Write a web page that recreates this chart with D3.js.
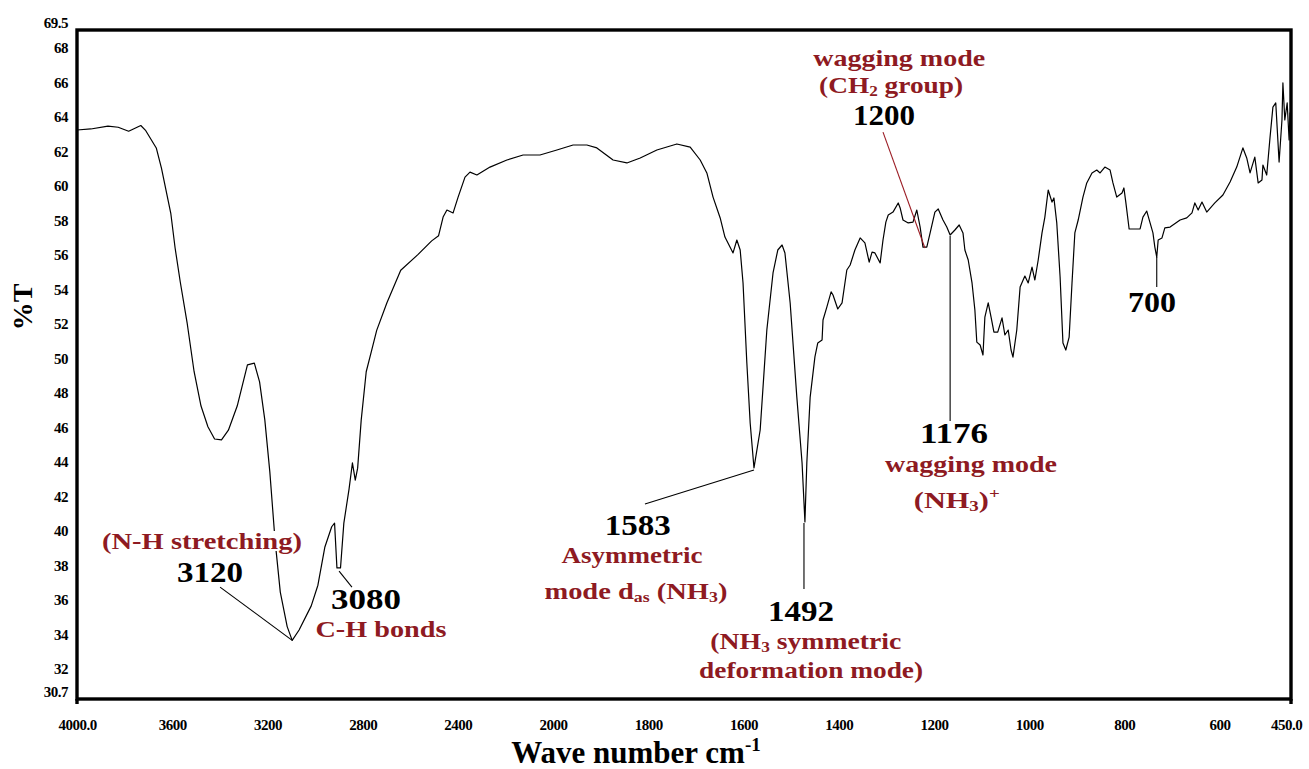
<!DOCTYPE html>
<html>
<head>
<meta charset="utf-8">
<script src="https://cdn.jsdelivr.net/npm/d3@7"></script>
<style>
  body { margin: 0; background: #fff; }
  svg { display: block; }
</style>
</head>
<body>
<svg id="chart" width="1309" height="769"></svg>
<script>
// ---------- DATA ----------
const wavenumbers = [
  4000,3942,3870,3827,3783,3732,3711,3667,3645,3624,3606,3588,3566,3537,3508,3479,3450,3422,3393,3364,
  3327,3284,3255,3233,3211,3190,3168,3146,3117,3096,3067,3016,2988,2959,2930,2918,2908,2893,2879,2857,
  2843,2831,2821,2806,2785,2763,2741,2698,2640,2568,2510,2481,2462,2446,2420,2399,2370,2349,2320,2265,
  2194,2126,2055,1992,1958,1929,1908,1874,1845,1817,1782,1740,1712,1691,1677,1664,1649,1639,1622,1614,
  1607,1601,1593,1586,1578,1565,1551,1538,1528,1519,1513,1502,1488,1477,1471,1467,1460,1450,1444,1435,
  1433,1425,1416,1412,1402,1393,1383,1376,1366,1355,1345,1336,1330,1324,1313,1307,1301,1296,1286,1275,
  1271,1265,1254,1244,1236,1229,1223,1215,1208,1198,1191,1181,1173,1166,1156,1147,1139,1135,1128,1120,
  1114,1110,1103,1097,1093,1086,1080,1074,1066,1057,1051,1044,1038,1034,1026,1019,1009,1002,994,988,
  981,973,967,960,952,948,942,935,929,923,916,910,904,897,887,879,868,858,851,841,
  830,824,816,805,801,797,790,767,761,753,746,740,736,732,729,721,715,704,683,669,
  658,652,645,637,627,610,593,578,564,551,543,536,526,519,511,509,501,494,488,482,
  475,469,467,463,458,454,452,450
];
const transmittance = [
  63.70,63.76,63.92,63.86,63.63,63.96,63.66,62.66,61.47,60.07,58.87,56.87,54.87,52.48,49.68,47.69,46.49,45.78,45.73,46.29,
  47.69,50.08,50.18,49.09,46.89,43.89,39.90,36.90,34.90,34.10,34.70,36.10,37.30,39.50,40.69,40.90,38.30,38.30,40.90,42.89,
  44.39,43.39,44.09,46.89,49.68,50.88,52.08,53.68,55.57,56.47,57.27,57.57,58.65,59.06,58.89,59.81,60.97,61.26,61.09,61.55,
  61.96,62.25,62.25,62.54,62.83,62.83,62.66,61.96,61.79,62.08,62.54,62.89,62.71,61.96,61.21,59.81,58.60,57.49,56.57,57.32,
  56.74,54.83,50.19,46.71,44.10,46.30,52.10,55.41,56.74,57.03,56.57,53.67,48.21,44.39,40.97,44.39,48.21,50.54,51.35,51.52,
  52.68,53.43,54.31,54.13,53.32,53.67,55.58,55.87,56.74,57.44,57.15,56.04,56.62,56.57,55.99,57.32,58.36,58.77,58.94,59.47,
  59.18,58.48,58.31,58.36,59.06,58.07,56.91,56.91,57.73,58.94,59.12,58.48,58.07,57.61,57.90,58.19,57.73,56.74,56.16,54.83,
  53.26,51.40,51.23,50.65,52.85,53.67,52.85,51.98,51.98,52.80,51.81,52.10,50.94,50.53,52.10,54.59,55.23,54.83,55.75,55.00,
  56.16,57.73,58.65,60.22,59.52,59.76,58.31,55.17,51.35,50.94,51.69,54.83,57.73,58.48,59.81,60.63,61.21,61.38,61.21,61.55,
  61.38,60.63,59.81,60.05,60.34,59.52,57.96,57.96,58.65,59.00,58.31,57.73,56.91,56.33,57.32,57.44,58.02,58.07,58.48,58.60,
  58.89,59.47,59.06,59.52,58.94,59.47,59.93,60.68,61.55,62.66,62.08,61.21,62.13,60.63,60.80,61.67,61.09,63.29,65.03,65.27,
  61.84,64.28,66.43,64.28,65.27,63.12,64.69,63.12
];

const xTickValues = [4000,3600,3200,2800,2400,2000,1800,1600,1400,1200,1000,800,600,450];
const xTickLabels = ["4000.0","3600","3200","2800","2400","2000","1800","1600","1400","1200","1000","800","600","450.0"];
const yTickValues = [30.7,32,34,36,38,40,42,44,46,48,50,52,54,56,58,60,62,64,66,68,69.5];
const yTickLabels = ["30.7","32","34","36","38","40","42","44","46","48","50","52","54","56","58","60","62","64","66","68","69.5"];

// annotation texts: centre wavenumber, baseline %T, kind, forced width, parts
const labelWavenumbers = [3475, 3441, 2786, 2723, 1822, 1834, 1826, 1479, 1469, 1458, 1158, 1122, 1152, 1273, 1290, 1305, 742];
const labelLevels      = [39.40, 37.49, 35.92, 34.29, 40.21, 38.59, 36.50, 35.22, 33.60, 31.92, 45.55, 43.86, 41.78, 67.41, 65.85, 63.99, 53.14];
const labelKinds       = ["red","num","num","red","num","red","red","num","red","red","num","red","red","red","red","num","num"];
const labelWidths      = [200, 66, 70, 131, 66, 141, 183, 66, 191, 224, 68, 172, 86, 172, 144, 62, 48];
const labelParts = [
  [["(N-H stretching)"]],
  [["3120"]],
  [["3080"]],
  [["C-H bonds"]],
  [["1583"]],
  [["Asymmetric"]],
  [["mode d"],["as","sub"],[" (NH"],["3","sub"],[")"]],
  [["1492"]],
  [["(NH"],["3","sub"],[" symmetric"]],
  [["deformation mode)"]],
  [["1176"]],
  [["wagging mode"]],
  [["(NH"],["3","sub"],[")"],["+","sup"]],
  [["wagging mode"]],
  [["(CH"],["2","sub"],[" group)"]],
  [["1200"]],
  [["700"]]
];

// leader lines: from (wn1,T1) to (wn2,T2)
const leaderFromWn = [3399, 2899, 1807, 1473, 1166, 1307, 732];
const leaderFromT  = [37.19, 38.12, 42.01, 37.08, 46.82, 63.58, 54.59];
const leaderToWn   = [3096, 2845, 1578, 1473, 1166, 1219, 732];
const leaderToT    = [34.10, 37.19, 43.98, 40.91, 57.55, 56.86, 56.33];
const leaderColors = ["#000","#000","#000","#000","#000","#9b1c24","#000"];

// ---------- DRAWING ----------
const svg = d3.select("#chart");
const plotL = 77, plotR = 1291, plotT = 30, plotB = 699;
const breakX = plotL + (plotR - plotL) * 1000 / 2550;

const x = d3.scaleLinear().domain([4000, 2000, 450]).range([plotL, breakX, plotR]);
const y = d3.scaleLinear().domain([30.7, 69.5]).range([plotB, plotT]);

const serif = "'Liberation Serif','Times New Roman',serif";
const red = "#8e1a22";

// axes (labels only)
const xAxis = d3.axisBottom(x).tickValues(xTickValues)
  .tickFormat((d, i) => xTickLabels[i]).tickSize(0).tickPadding(20);
const gx = svg.append("g").attr("transform", `translate(0,${plotB})`).call(xAxis);
gx.select(".domain").remove();
gx.selectAll("text").attr("font-family", serif).attr("font-weight", "bold")
  .attr("font-size", 15).attr("fill", "#000").attr("letter-spacing", -0.5);
gx.selectAll(".tick").filter(d => d === 450).select("text").attr("dx", -5);

const yAxis = d3.axisLeft(y).tickValues(yTickValues)
  .tickFormat((d, i) => yTickLabels[i]).tickSize(0).tickPadding(9);
const gy = svg.append("g").attr("transform", `translate(${plotL},0)`).call(yAxis);
gy.select(".domain").remove();
gy.selectAll("text").attr("font-family", serif).attr("font-weight", "bold")
  .attr("font-size", 15).attr("fill", "#000").attr("dy", "-0.2em").attr("letter-spacing", -0.5);

// spectrum
const points = wavenumbers.map((w, i) => [w, transmittance[i]]);
const line = d3.line().x(d => x(d[0])).y(d => y(d[1]));
svg.append("path").datum(points).attr("d", line)
  .attr("fill", "none").attr("stroke", "#000").attr("stroke-width", 1.2)
  .attr("stroke-linejoin", "round");

// frame
svg.append("rect").attr("x", plotL).attr("y", plotT)
  .attr("width", plotR - plotL).attr("height", plotB - plotT)
  .attr("fill", "none").attr("stroke", "#000").attr("stroke-width", 3.4);
[4000, 450].forEach(w => {
  svg.append("line").attr("x1", x(w)).attr("x2", x(w)).attr("y1", plotB).attr("y2", plotB + 5)
    .attr("stroke", "#000").attr("stroke-width", 3.4);
});

// annotation labels
const bgLayer = svg.append("g");
const leaderLayer = svg.append("g");
const textLayer = svg.append("g");

labelParts.forEach((parts, i) => {
  const isRed = labelKinds[i] === "red";
  const t = textLayer.append("text")
    .attr("x", x(labelWavenumbers[i])).attr("y", y(labelLevels[i]))
    .attr("text-anchor", "middle")
    .attr("font-family", serif).attr("font-weight", "bold")
    .attr("font-size", isRed ? 24 : 30)
    .attr("fill", isRed ? red : "#000");
  let shift = 0;
  parts.forEach(p => {
    const ts = t.append("tspan").text(p[0]);
    let target = 0;
    if (p[1] === "sub") { ts.attr("font-size", 15); target = 3; }
    else if (p[1] === "sup") { ts.attr("font-size", 15); target = -10; }
    if (target !== shift) { ts.attr("dy", target - shift); shift = target; }
  });
  if (labelWidths[i] > 0) {
    t.attr("textLength", labelWidths[i]).attr("lengthAdjust", "spacingAndGlyphs");
  }
  const bb = t.node().getBBox();
  bgLayer.append("rect").attr("x", bb.x).attr("y", bb.y + 3)
    .attr("width", bb.width).attr("height", bb.height - 6).attr("fill", "#fff");
});

leaderFromWn.forEach((w, i) => {
  leaderLayer.append("line")
    .attr("x1", x(w)).attr("y1", y(leaderFromT[i]))
    .attr("x2", x(leaderToWn[i])).attr("y2", y(leaderToT[i]))
    .attr("stroke", leaderColors[i]).attr("stroke-width", 1.1);
});

// axis titles
svg.append("text")
  .attr("transform", `translate(32,307) rotate(-90)`)
  .attr("text-anchor", "middle")
  .attr("font-family", serif).attr("font-weight", "bold").attr("font-size", 28)
  .text("%T");

const xt = svg.append("text")
  .attr("x", 636).attr("y", 763).attr("text-anchor", "middle")
  .attr("font-family", serif).attr("font-weight", "bold").attr("font-size", 31);
xt.append("tspan").text("Wave number cm");
xt.append("tspan").attr("font-size", 19).attr("dy", -12).text("-1");
</script>
</body>
</html>
